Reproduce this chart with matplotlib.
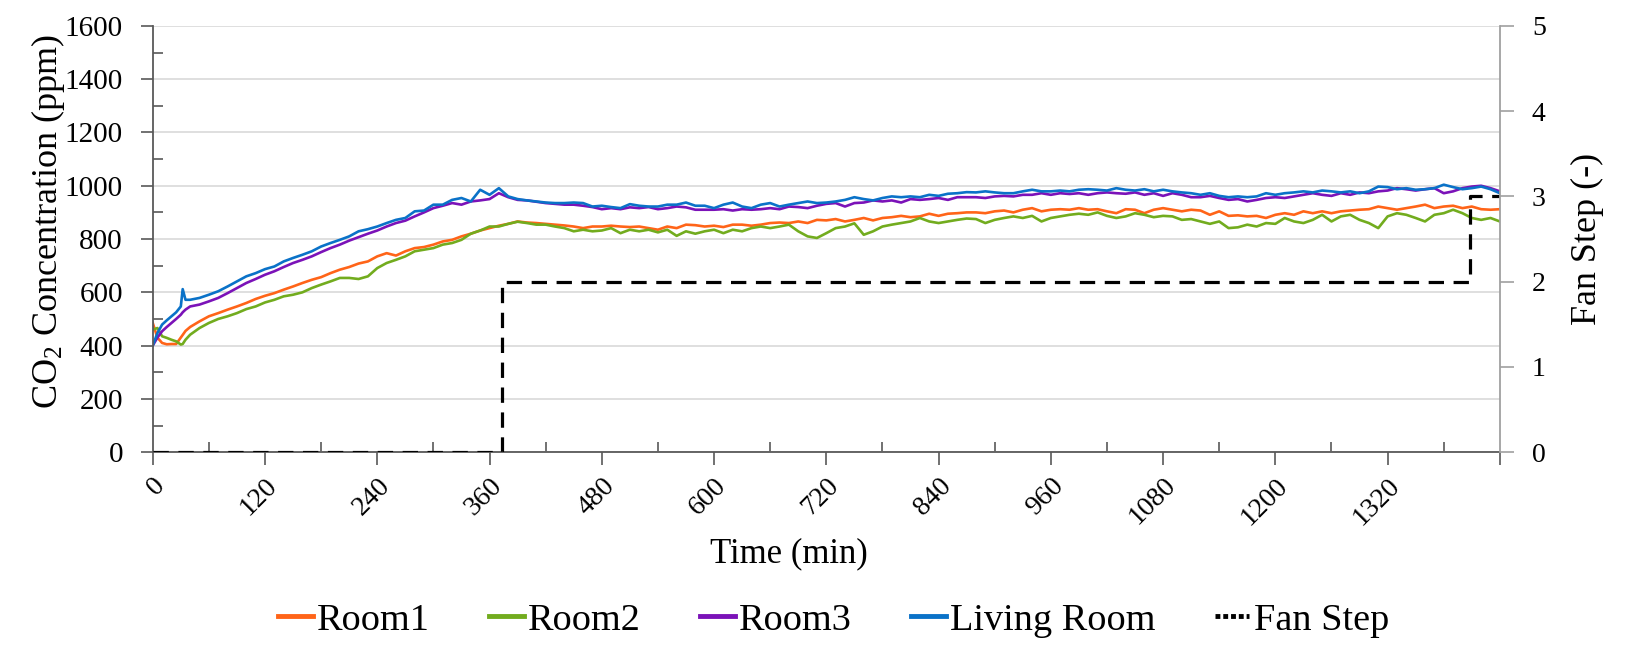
import matplotlib
matplotlib.use("Agg")
import matplotlib.pyplot as plt
from matplotlib.lines import Line2D

# time axis (min), finer at the start to catch the early spike
time_min = [0, 5, 10, 15, 20, 25, 30, 32, 35] + list(range(40, 1441, 10))

room1 = [485, 430, 410, 405, 406, 406, 430, 440, 455,
         470, 491, 510, 522, 535, 547, 560, 575, 587, 597,
         610, 622, 635, 647, 657, 672, 685, 695, 708, 716,
         735, 747, 738, 754, 766, 770, 779, 791, 797, 810,
         820, 832, 841, 850, 857, 866, 862, 860, 857, 854,
         851, 847, 841, 847, 847, 850, 847, 845, 847, 841,
         835, 847, 841, 854, 852, 847, 850, 845, 854, 854,
         850, 854, 860, 862, 860, 866, 860, 872, 870, 875,
         866, 872, 879, 870, 879, 882, 887, 882, 885, 895,
         887, 895, 897, 900, 900, 897, 904, 907, 900, 910,
         916, 904, 910, 912, 910, 916, 910, 912, 904, 897,
         912, 910, 897, 910, 916, 910, 904, 910, 907, 891,
         904, 887, 889, 885, 887, 879, 891, 897, 891, 904,
         897, 904, 897, 904, 907, 910, 912, 922, 916, 910,
         916, 922, 929, 916, 922, 925, 916, 922, 912, 910,
         912]

room2 = [460, 466, 435, 429, 422, 416, 404, 406, 422,
         441, 466, 485, 500, 510, 522, 537, 547, 562, 572,
         585, 591, 600, 616, 629, 641, 654, 654, 650, 660,
         691, 710, 722, 735, 754, 760, 766, 779, 785, 797,
         820, 832, 847, 847, 857, 865, 860, 854, 854, 847,
         841, 829, 835, 829, 832, 841, 822, 835, 829, 835,
         825, 835, 812, 829, 820, 829, 835, 822, 835, 829,
         841, 847, 841, 847, 854, 829, 810, 804, 822, 841,
         847, 859, 816, 829, 847, 854, 860, 866, 879, 866,
         860, 866, 872, 877, 875, 860, 872, 879, 885, 879,
         887, 866, 879, 885, 891, 895, 891, 900, 887, 879,
         885, 897, 891, 882, 887, 885, 872, 875, 866, 857,
         866, 841, 844, 854, 847, 860, 857, 879, 866, 860,
         872, 891, 866, 885, 891, 872, 860, 841, 885, 897,
         891, 879, 866, 891, 897, 910, 897, 879, 872, 879,
         866]

room3 = [400, 430, 454, 470, 485, 500, 516, 525, 535,
         547, 554, 566, 579, 597, 616, 635, 650, 666, 679,
         695, 710, 722, 735, 751, 766, 779, 794, 807, 820,
         832, 847, 860, 869, 885, 900, 916, 925, 935, 929,
         941, 945, 950, 972, 957, 947, 945, 940, 935, 932,
         929, 929, 925, 920, 912, 916, 912, 919, 916, 920,
         912, 916, 922, 919, 910, 910, 910, 912, 907, 912,
         910, 912, 916, 912, 922, 920, 916, 925, 932, 935,
         922, 935, 937, 945, 941, 945, 937, 950, 947, 950,
         954, 947, 957, 957, 957, 954, 960, 962, 960, 966,
         966, 972, 966, 972, 969, 972, 966, 972, 975, 972,
         970, 975, 966, 972, 962, 972, 966, 957, 957, 962,
         954, 947, 950, 941, 947, 954, 957, 954, 960, 966,
         972, 966, 962, 972, 966, 975, 972, 979, 982, 991,
         987, 982, 987, 991, 972, 979, 991, 997, 1000, 991,
         979]

living_room = [400, 447, 479, 495, 510, 525, 547, 612, 572,
               572, 579, 591, 604, 622, 641, 660, 672, 687, 697,
               716, 729, 741, 754, 772, 785, 797, 810, 829, 837,
               847, 860, 872, 879, 904, 907, 929, 929, 947, 954,
               941, 985, 966, 991, 960, 950, 945, 941, 937, 935,
               935, 937, 935, 922, 925, 920, 916, 931, 925, 922,
               922, 929, 929, 937, 925, 925, 916, 929, 937, 922,
               916, 929, 935, 922, 929, 935, 941, 935, 937, 941,
               947, 957, 950, 945, 954, 960, 957, 960, 957, 966,
               962, 970, 972, 976, 975, 979, 975, 972, 972, 979,
               985, 979, 979, 982, 979, 985, 987, 985, 982, 991,
               985, 982, 987, 979, 985, 979, 975, 972, 966, 972,
               962, 957, 960, 957, 960, 972, 966, 972, 975, 979,
               975, 982, 979, 975, 979, 972, 979, 997, 995, 987,
               991, 985, 987, 991, 1004, 995, 987, 991, 997, 987,
               972]

fan_time = [0, 373, 1408, 1440]
fan_step = [0, 2, 3, 3]

series_names = ["Room1", "Room2", "Room3", "Living Room"]
series_colors = ["#FF6418", "#72AC1E", "#7B12B8", "#0A72C8"]

plt.rcParams['font.family'] = ['Liberation Serif', 'DejaVu Serif']
plt.rcParams['mathtext.fontset'] = 'custom'
plt.rcParams['mathtext.rm'] = 'Liberation Serif'
plt.rcParams['mathtext.it'] = 'Liberation Serif:italic'

fig = plt.figure(figsize=(16.25, 6.64), dpi=100)
ax = fig.add_axes([0.094, 0.319, 0.829, 0.642])
ax2 = ax.twinx()

for vals, name, col in zip([room1, room2, room3, living_room], series_names, series_colors):
    ax.plot(time_min, vals, color=col, lw=1.9, label=name)

ax2.plot(fan_time, fan_step, color='black', lw=2.3, drawstyle='steps-post',
         dashes=(4.8, 3))

ax.set_xlim(0, 1440)
ax.set_ylim(0, 1600)
ax2.set_ylim(0, 5)

ax.set_xticks(range(0, 1441, 120))
ax.set_xticklabels([str(v) for v in range(0, 1321, 120)] + [""])
ax.set_xticks(range(60, 1441, 120), minor=True)
ax.set_yticks(range(0, 1601, 200))
ax.set_yticks(range(100, 1601, 200), minor=True)
ax2.set_yticks(range(0, 6))

ax.grid(axis='y', which='major', color='#d9d9d9', lw=1.2)
ax.set_axisbelow(True)

ax.tick_params(axis='both', which='major', direction='out', length=9, width=1.2,
               color='#595959')
ax.tick_params(axis='y', which='major', labelsize=21, pad=12.5)
ax.tick_params(axis='x', which='major', labelsize=20, pad=6)
ax.tick_params(axis='both', which='minor', direction='in', length=7, width=1.2,
               color='#595959')
ax2.tick_params(axis='y', direction='out', length=10, width=1.2, color='#a0a0a0',
                labelsize=20, pad=13)

for lbl in ax.get_xticklabels():
    lbl.set_rotation(45)
    lbl.set_ha('right')
    lbl.set_va('top')
    lbl.set_rotation_mode('anchor')

ax.spines['top'].set_visible(False)
ax2.spines['top'].set_visible(False)
ax.spines['right'].set_visible(False)
ax2.spines['left'].set_visible(False)
ax2.spines['bottom'].set_visible(False)
ax.spines['left'].set_color('#595959')
ax.spines['left'].set_linewidth(1.3)
ax.spines['bottom'].set_color('#595959')
ax.spines['bottom'].set_linewidth(1.3)
ax2.spines['right'].set_color('#a0a0a0')
ax2.spines['right'].set_linewidth(1.3)

ax.set_ylabel(r"CO$_\mathregular{2}$ Concentration (ppm)", fontsize=26, labelpad=4)
ax.yaxis.set_label_coords(-0.064, 0.542)
ax2.set_ylabel("Fan Step (-)", fontsize=26, labelpad=18)
ax.set_xlabel("Time (min)", fontsize=25, labelpad=2)
ax.xaxis.set_label_coords(0.472, -0.2)

handles = [Line2D([], [], color=c, lw=3.5) for c in series_colors]
handles.append(Line2D([], [], color='black', lw=3.5, linestyle=(0, (1, 0.6))))
fig.legend(handles, series_names + ["Fan Step"], loc='center',
           bbox_to_anchor=(0.513, 0.066), ncol=5, frameon=False, fontsize=27.5,
           handlelength=0.9, handletextpad=0.12, columnspacing=1.55)

fig.savefig("out.png", dpi=100)
